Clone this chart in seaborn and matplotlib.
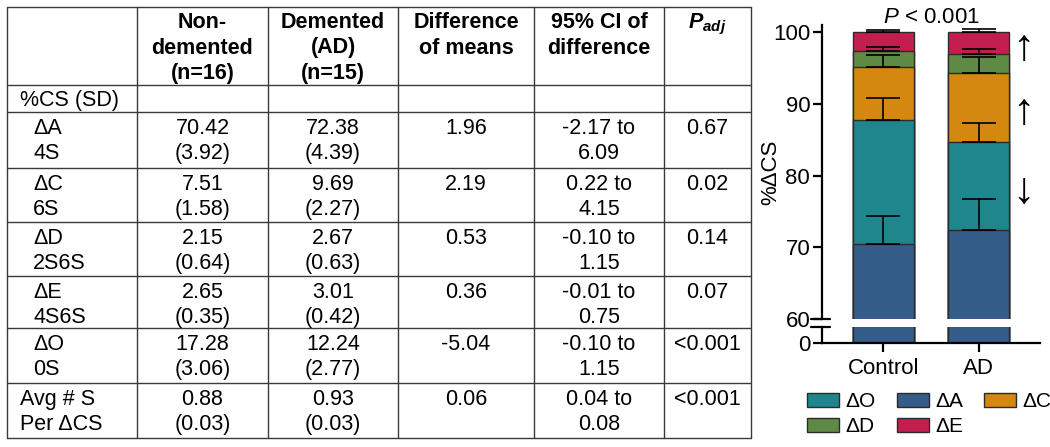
import numpy as np
import pandas as pd
import seaborn as sns
import matplotlib.pyplot as plt
from matplotlib.patches import Patch

# 柱状图数据（从下往上堆叠）
groups = ["Control", "AD"]
components = ["ΔA", "ΔO", "ΔC", "ΔD", "ΔE"]
mean_control = [70.42, 17.28, 7.51, 2.15, 2.65]
mean_ad = [72.38, 12.24, 9.69, 2.67, 3.01]
sd_control = [3.92, 3.06, 1.58, 0.64, 0.35]
sd_ad = [4.39, 2.77, 2.27, 0.63, 0.42]
change_ad = {"ΔE": "↑", "ΔC": "↑", "ΔO": "↓"}
p_overall = "< 0.001"
colors = {"ΔA": "#355d89", "ΔO": "#1e868c", "ΔC": "#d4880f",
          "ΔD": "#5e8a45", "ΔE": "#c41e4e"}
legend_order = ["ΔO", "ΔD", "ΔA", "ΔE", "ΔC"]

# 表格数据
row_names = ["ΔA", "ΔC", "ΔD", "ΔE", "ΔO"]
row_sulfation = ["4S", "6S", "2S6S", "4S6S", "0S"]
diff_means = ["1.96", "2.19", "0.53", "0.36", "-5.04"]
ci_low = ["-2.17", "0.22", "-0.10", "-0.01", "-0.10"]
ci_high = ["6.09", "4.15", "1.15", "0.75", "1.15"]
p_adj = ["0.67", "0.02", "0.14", "0.07", "<0.001"]
avg_s_nd = (0.88, 0.03)
avg_s_ad = (0.93, 0.03)
avg_s_diff = "0.06"
avg_s_ci = ("0.04", "0.08")
avg_s_p = "<0.001"
headers = [["Non-", "demented", "(n=16)"], ["Demented", "(AD)", "(n=15)"],
           ["Difference", "of means"], ["95% CI of", "difference"]]

sns.set_style("ticks")
plt.rcParams["font.family"] = ["Liberation Sans", "DejaVu Sans"]
plt.rcParams["mathtext.fontset"] = "custom"
plt.rcParams["mathtext.rm"] = "Liberation Sans"
plt.rcParams["mathtext.it"] = "Liberation Sans:italic"
plt.rcParams["mathtext.bf"] = "Liberation Sans:bold:italic"
for key in ["text.color", "axes.labelcolor", "xtick.color", "ytick.color",
            "axes.edgecolor"]:
    plt.rcParams[key] = "black"

fig = plt.figure(figsize=(10.5, 4.47), dpi=100)

# ---------- 表格（像素坐标） ----------
tab = fig.add_axes([0, 0, 1, 1])
tab.set_xlim(0, 1050)
tab.set_ylim(447, 0)
tab.axis("off")

col_x = [7, 137, 268, 398, 534, 664, 751]
row_y = [7, 85, 112, 168, 222, 276, 328, 383, 438]
line_kw = dict(color="#3a3a3a", lw=1.0)
for x in col_x:
    tab.plot([x, x], [row_y[0], row_y[-1]], **line_kw)
for y in row_y:
    tab.plot([col_x[0], col_x[-1]], [y, y], **line_kw)

centers = [(col_x[i] + col_x[i + 1]) / 2 for i in range(len(col_x) - 1)]
fs = 15.5
txt = dict(fontsize=fs, va="baseline", color="black")
b1, b2 = 22, 47   # 每个单元格两行文字的基线偏移

for j, lines in enumerate(headers):
    for k, line in enumerate(lines):
        tab.text(centers[j + 1], 28 + 25.5 * k, line, ha="center",
                 fontweight="bold", **txt)
tab.text(centers[5], 28, r"$\mathbf{P_{adj}}$", ha="center", **txt)

tab.text(20, 106, "%CS (SD)", ha="left", **txt)

for i, name in enumerate(row_names):
    top = row_y[2 + i]
    k = components.index(name)
    tab.text(33, top + b1, name, ha="left", **txt)
    tab.text(33, top + b2, row_sulfation[i], ha="left", **txt)
    tab.text(centers[1], top + b1, f"{mean_control[k]:.2f}", ha="center", **txt)
    tab.text(centers[1], top + b2, f"({sd_control[k]:.2f})", ha="center", **txt)
    tab.text(centers[2], top + b1, f"{mean_ad[k]:.2f}", ha="center", **txt)
    tab.text(centers[2], top + b2, f"({sd_ad[k]:.2f})", ha="center", **txt)
    tab.text(centers[3], top + b1, diff_means[i], ha="center", **txt)
    tab.text(centers[4], top + b1, f"{ci_low[i]} to", ha="center", **txt)
    tab.text(centers[4], top + b2, ci_high[i], ha="center", **txt)
    tab.text(centers[5], top + b1, p_adj[i], ha="center", **txt)

top = row_y[7]
tab.text(20, top + b1, "Avg # S", ha="left", **txt)
tab.text(20, top + b2, "Per ΔCS", ha="left", **txt)
tab.text(centers[1], top + b1, f"{avg_s_nd[0]:.2f}", ha="center", **txt)
tab.text(centers[1], top + b2, f"({avg_s_nd[1]:.2f})", ha="center", **txt)
tab.text(centers[2], top + b1, f"{avg_s_ad[0]:.2f}", ha="center", **txt)
tab.text(centers[2], top + b2, f"({avg_s_ad[1]:.2f})", ha="center", **txt)
tab.text(centers[3], top + b1, avg_s_diff, ha="center", **txt)
tab.text(centers[4], top + b1, f"{avg_s_ci[0]} to", ha="center", **txt)
tab.text(centers[4], top + b2, avg_s_ci[1], ha="center", **txt)
tab.text(centers[5], top + b1, avg_s_p, ha="center", **txt)

# ---------- 堆叠柱状图（断轴） ----------
df = pd.DataFrame({
    "group": np.repeat(groups, len(components)),
    "component": components * 2,
    "mean": mean_control + mean_ad,
    "sd": sd_control + sd_ad,
})
df["top"] = df.groupby("group")["mean"].cumsum()

ax_top = fig.add_axes([822 / 1050, (447 - 319) / 447, 218 / 1050, 294 / 447])
ax_bot = fig.add_axes([822 / 1050, (447 - 343) / 447, 218 / 1050, 16 / 447])

for ax in (ax_top, ax_bot):
    for comp in reversed(components):
        sns.barplot(data=df[df["component"] == comp], x="group", y="top",
                    order=groups, color=colors[comp], saturation=1, width=0.64,
                    edgecolor="#2b2b2b", linewidth=1.0, errorbar=None, ax=ax)
    ax.set_xlim(-0.647, 1.647)
    ax.set_xlabel("")
    ax.set_ylabel("")
    sns.despine(ax=ax)
    ax.spines["left"].set_linewidth(1.6)
    ax.spines["bottom"].set_linewidth(1.6)
    ax.tick_params(axis="both", length=6.5, width=1.6, labelsize=16, pad=2)

for comp in components:
    sub = df[df["component"] == comp]
    ax_top.errorbar(x=[0, 1], y=sub["top"], yerr=[np.zeros(len(sub)), sub["sd"]],
                    fmt="none", ecolor="black", elinewidth=1.2, capsize=12.2,
                    capthick=1.2, zorder=5)

ax_top.set_ylim(60, 101)
ax_top.set_yticks([60, 70, 80, 90, 100])
ax_top.spines["bottom"].set_visible(False)
ax_top.tick_params(axis="x", bottom=False, labelbottom=False)
ax_top.set_ylabel("%ΔCS", fontsize=16)
ax_top.yaxis.set_label_coords(-0.185, 0.5)

ax_bot.set_ylim(0, 2.2)
ax_bot.set_yticks([0])
ax_bot.set_xticks([0, 1])
ax_bot.set_xticklabels(groups)
ax_bot.tick_params(axis="x", pad=4)

# 断轴标记
for ax, yy in ((ax_top, 0), (ax_bot, 1)):
    ax.plot([-0.05, 0.037], [yy, yy], transform=ax.transAxes, color="black",
            lw=1.6, clip_on=False)

ax_top.text(0.5, 1.007, f"$P$ {p_overall}", transform=ax_top.transAxes,
            ha="center", va="baseline", fontsize=16)

# 变化方向箭头，放在 AD 柱各段中部右侧
ad = df[df["group"] == "AD"].set_index("component")
for comp, sym in change_ad.items():
    y_mid = ad.loc[comp, "top"] - ad.loc[comp, "mean"] / 2
    ax_top.text(1.47, y_mid - 0.7, sym, ha="center", va="center", fontsize=32)

handles = [Patch(facecolor=colors[c], edgecolor="#2b2b2b", label=c)
           for c in legend_order]
fig.legend(handles=handles, loc="upper left",
           bbox_to_anchor=(807 / 1050, (447 - 392) / 447), ncol=3,
           frameon=False, fontsize=15, handlelength=1.55, handleheight=0.65,
           handletextpad=0.3, columnspacing=1.0, labelspacing=0.3,
           borderpad=0, borderaxespad=0)

fig.savefig("out.png", dpi=100)
